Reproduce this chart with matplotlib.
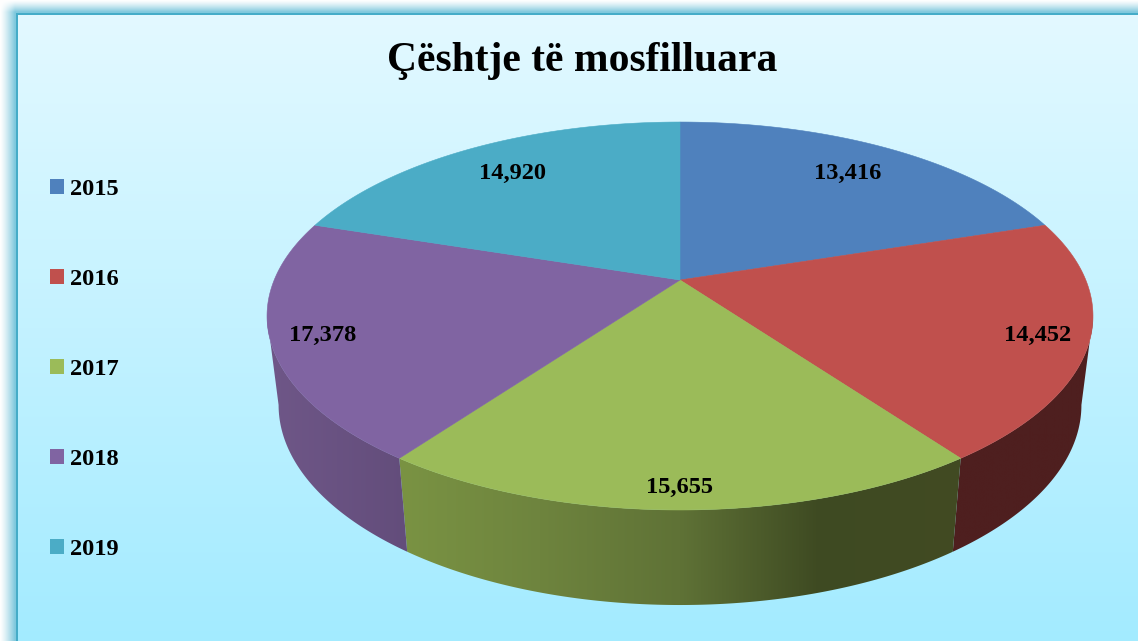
import numpy as np
import matplotlib
matplotlib.use("Agg")
import matplotlib.pyplot as plt
from matplotlib.colors import LinearSegmentedColormap, to_rgb
from matplotlib.patches import Patch, Polygon

# data, the slices are drawn as equal fifths in the picture whatever the labels say
years = ["2015", "2016", "2017", "2018", "2019"]
cases = [13416, 14452, 15655, 17378, 14920]
shares = [20, 20, 20, 20, 20]
title = "Çështje të mosfilluara"

top_colors = ["#4f81bd", "#c0504d", "#9bbb59", "#8064a2", "#4bacc6"]
side_colors = [
    ["#3a5f8c", "#3a5f8c"],
    ["#4f1f1f", "#4e1f1f"],
    ["#7a9343", "#6e843e", "#5f7236", "#3e4a22", "#424b23"],
    ["#6f5788", "#634d7b"],
    ["#367d90", "#367d90"],
]
label_radius = [0.785, 0.88, 0.91, 0.88, 0.785]
label_dy = [0, 2, 2, 2, 0]

W, H = 1138, 641
CX, CY = 680, 280
BX, AY, K = 405.8, 187.3, 0.1856
BOTTOM_CY, BOTTOM_SX, BOTTOM_SY = 367.9, 0.972, 1.031

plt.rcParams["font.family"] = ["Liberation Serif", "DejaVu Serif"]
plt.rcParams["font.weight"] = "bold"


def project(angle, r=1.0, bottom=False):
    # angle in degrees clockwise from 12 o'clock, disc seen in perspective
    a = np.radians(angle)
    X = r * np.sin(a)
    Y = r * np.cos(a)
    d = 1 + K * Y
    x = BX * X / d
    y = -AY * Y / d
    if bottom:
        return CX + BOTTOM_SX * x, BOTTOM_CY + BOTTOM_SY * y
    return CX + x, CY + y


fig = plt.figure(figsize=(W / 100, H / 100), dpi=100)
ax = fig.add_axes([0, 0, 1, 1])

# background gradient with the glow and line of the frame
px, py = np.meshgrid(np.arange(W) + 0.5, np.arange(H) + 0.5)
glow = np.array(to_rgb("#7fc8dd"))
line = np.array(to_rgb("#45acc8"))
grad_top = np.array(to_rgb("#e3f9ff"))
grad_bottom = np.array(to_rgb("#a3ebff"))
w = np.clip(px / 15, 0, 1) ** 1.3 * np.clip(py / 12, 0, 1) ** 1.3
bg = 1 + (glow - 1) * w[..., None]
inner = (px > 16) & (py > 13)
bg[inner] = line
inner = (px > 18) & (py > 15)
t = (py[..., None] - 15) / (H - 15)
bg[inner] = (grad_top + (grad_bottom - grad_top) * t)[inner]
ax.imshow(bg, extent=(0, W, H, 0), interpolation="nearest", zorder=0)

edges = np.concatenate([[0], np.cumsum(shares)]) / np.sum(shares) * 360

# only the front of the wall shows, between the two points where the outline turns
turn = np.degrees(np.arccos(-K))

# side wall first, a horizontal gradient clipped to the shape of the slice
for i in range(len(shares)):
    a0, a1 = max(edges[i], turn), min(edges[i + 1], 360 - turn)
    if a1 <= a0:
        continue
    angles = np.linspace(a0, a1, 150)
    tx, ty = project(angles)
    bx, by = project(angles, bottom=True)
    x_min, x_max = min(tx.min(), bx.min()), max(tx.max(), bx.max())
    cmap = LinearSegmentedColormap.from_list("side%d" % i, side_colors[i])
    im = ax.imshow(np.linspace(0, 1, 256).reshape(1, -1), cmap=cmap, aspect="auto",
                   extent=(x_min, x_max, by.max() + 5, ty.min() - 5), zorder=1)
    shape = Polygon(np.c_[np.r_[tx, bx[::-1]], np.r_[ty, by[::-1]]], closed=True,
                    transform=ax.transData, facecolor="none", edgecolor="none")
    ax.add_patch(shape)
    im.set_clip_path(shape)

# top of the pie
for i in range(len(shares)):
    angles = np.linspace(edges[i], edges[i + 1], 120)
    tx, ty = project(angles)
    ax.fill(np.r_[CX, tx], np.r_[CY, ty], color=top_colors[i], lw=0.4, zorder=2)

for i in range(len(shares)):
    mid = (edges[i] + edges[i + 1]) / 2
    lx, ly = project(mid, r=label_radius[i])
    ax.text(lx, ly + label_dy[i], format(cases[i], ","), ha="center", va="center", fontsize=17.6,
            color="black", zorder=3)

ax.text(582, 61, title, ha="center", va="center", fontsize=30, color="black", zorder=3)

handles = [Patch(facecolor=c, edgecolor="none") for c in top_colors]
ax.legend(handles, years, loc="upper left", bbox_to_anchor=(50, 179), bbox_transform=ax.transData,
          frameon=False, fontsize=17.6, handlelength=0.58, handleheight=0.58, handletextpad=0.25,
          labelspacing=2.81, borderpad=0, borderaxespad=0)

ax.set_xlim(0, W)
ax.set_ylim(H, 0)
ax.axis("off")
fig.savefig("out.png", dpi=100)
